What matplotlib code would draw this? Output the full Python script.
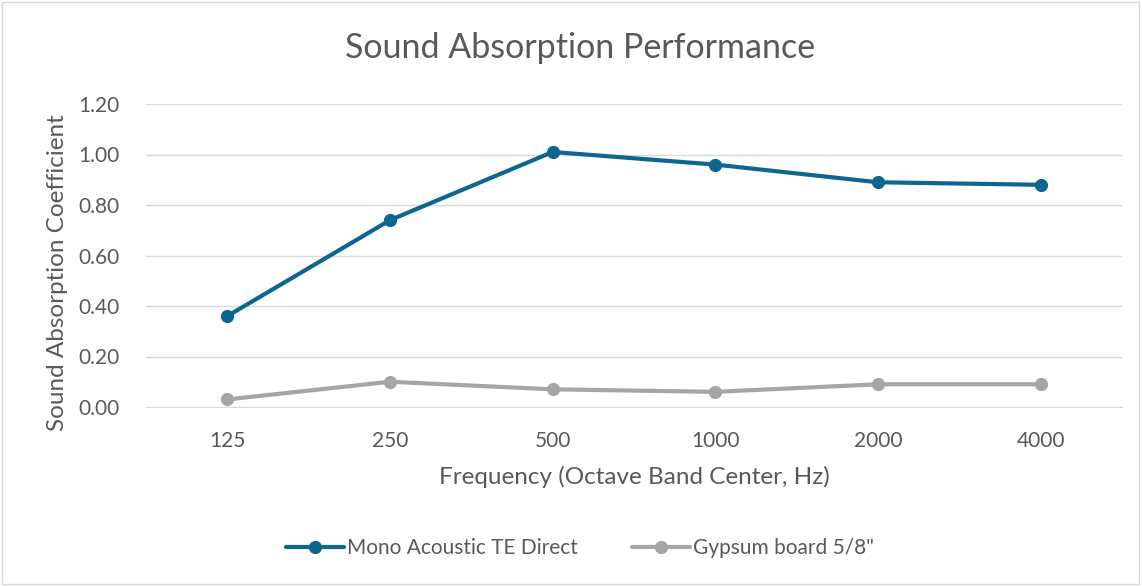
import matplotlib.pyplot as plt
from matplotlib.patches import Rectangle

# chart data
frequencies = ['125', '250', '500', '1000', '2000', '4000']
mono_acoustic = [0.36, 0.74, 1.01, 0.96, 0.89, 0.88]
gypsum_board = [0.03, 0.10, 0.07, 0.06, 0.09, 0.09]
series_names = ['Mono Acoustic TE Direct', 'Gypsum board 5/8"']
y_ticks = [0.0, 0.2, 0.4, 0.6, 0.8, 1.0, 1.2]

W, H = 1142, 586
text_color = '#595959'
blue = '#0D6690'
gray = '#A5A5A5'

plt.rcParams['font.family'] = ['Lato', 'DejaVu Sans']

fig = plt.figure(figsize=(W / 100, H / 100), dpi=100)
fig.patch.set_facecolor('white')
fig.patches.append(Rectangle((0.002, 0.004), 0.995, 0.992, transform=fig.transFigure,
                             fill=False, edgecolor='#D9D9D9', linewidth=1))

ax = fig.add_axes([146 / W, 1 - 407 / H, (1122 - 146) / W, (407 - 104) / H])

x = range(len(frequencies))
ax.plot(x, mono_acoustic, color=blue, linewidth=3, marker='o', markersize=8.5,
        label=series_names[0], solid_capstyle='round')
ax.plot(x, gypsum_board, color=gray, linewidth=3, marker='o', markersize=8.5,
        label=series_names[1], solid_capstyle='round')

ax.set_xlim(-0.5, len(frequencies) - 0.5)
ax.set_ylim(0, 1.2)
ax.set_yticks(y_ticks)
ax.set_yticklabels([f'{v:.2f}' for v in y_ticks])
ax.set_xticks(list(x))
ax.set_xticklabels(frequencies)

ax.grid(axis='y', color='#D9D9D9', linewidth=1)
ax.set_axisbelow(True)
for side in ['top', 'right', 'left']:
    ax.spines[side].set_visible(False)
ax.spines['bottom'].set_color('#D9D9D9')
ax.tick_params(axis='both', length=0, labelsize=15, colors=text_color)
ax.tick_params(axis='y', pad=19)
ax.tick_params(axis='x', pad=17)

ax.set_xlabel('Frequency (Octave Band Center, Hz)', fontsize=17.5, color=text_color, labelpad=11)
# y label sits a bit below the axis middle, like the original
fig.text(58 / W, 1 - 273 / H, 'Sound Absorption Coefficient', fontsize=17.5,
         color=text_color, rotation=90, ha='center', va='center')
fig.text(580 / W, 1 - 48 / H, 'Sound Absorption Performance', fontsize=24.5,
         color=text_color, ha='center', va='center')

fig.legend(loc='center', bbox_to_anchor=(580 / W, 1 - 548 / H), ncol=2, frameon=False,
           fontsize=15, labelcolor=text_color, handlelength=2.8, columnspacing=2.6,
           handletextpad=0.15)

fig.savefig('out.png', dpi=100)
